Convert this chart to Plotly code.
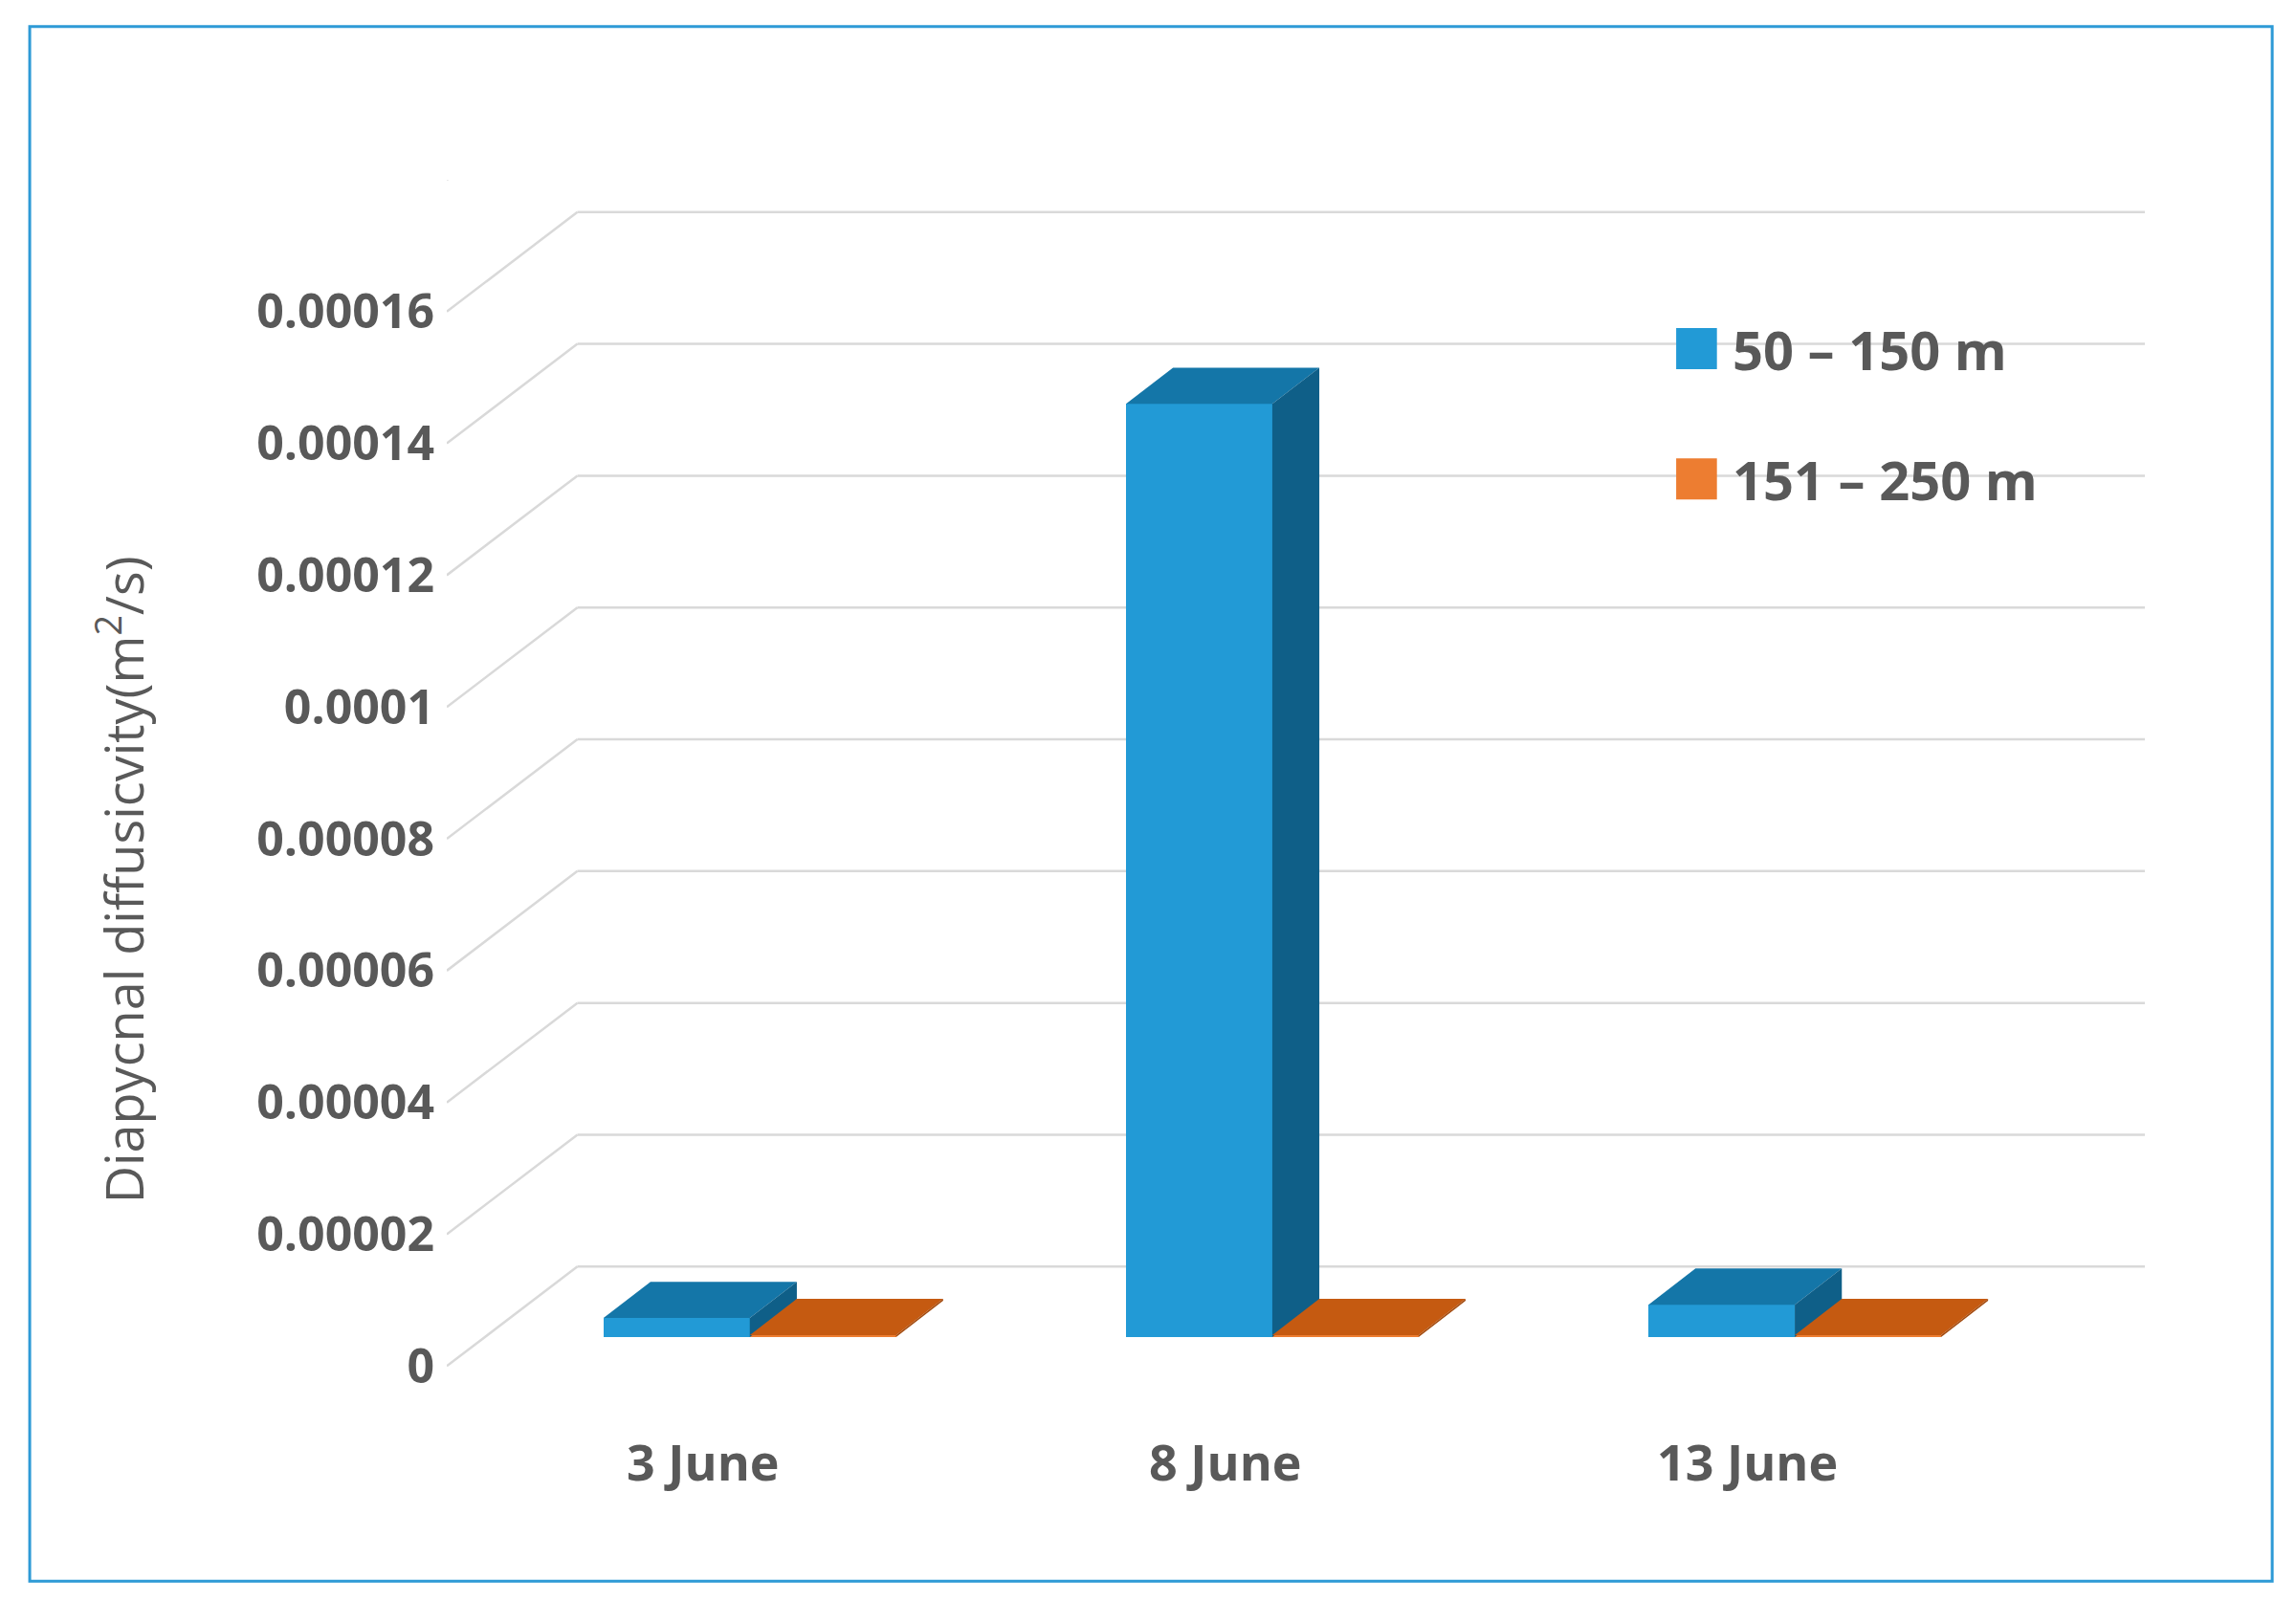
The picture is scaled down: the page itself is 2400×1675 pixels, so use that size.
import plotly.graph_objects as go

dates = ["3 June", "8 June", "13 June"]
series_names = ["50 \u2013 150 m", "151 \u2013 250 m"]
shallow = [0.0000029, 0.0001416, 0.0000049]   # 50-150 m
deep = [0.0000003, 0.0000003, 0.0000003]      # 151-250 m
y_ticks = [0, 0.00002, 0.00004, 0.00006, 0.00008, 0.0001, 0.00012, 0.00014, 0.00016]
y_tick_text = ["0", "0.00002", "0.00004", "0.00006", "0.00008", "0.0001",
               "0.00012", "0.00014", "0.00016"]

# faux-3D geometry (data units)
xmin, xmax = -0.49, 2.51
wall_dx, wall_dy = 0.25, 0.0000151
bar_dx, bar_dy = 0.09, 0.0000055
floor = 0.0000044
bar_w = 0.28
offsets = [-0.19, 0.09]
colors = [("#229AD6", "#1476A8", "#0F5F88"), ("#ED7D31", "#C55A11", "#A34A0E")]

grey = "#595959"
font_family = "Open Sans"
fig = go.Figure()
shapes = []

grid = dict(color="#D9D9D9", width=2.5)
for t in y_ticks + [y_ticks[-1] + 0.00002]:
    shapes.append(dict(type="line", x0=xmin, y0=t, x1=xmin + wall_dx, y1=t + wall_dy,
                       line=grid, layer="below"))
    shapes.append(dict(type="line", x0=xmin + wall_dx, y0=t + wall_dy, x1=xmax + wall_dx,
                       y1=t + wall_dy, line=grid, layer="below"))

for s, vals in enumerate([shallow, deep]):
    front, top, side = colors[s]
    xs = [i + offsets[s] for i in range(len(dates))]
    fig.add_trace(go.Bar(x=[x + bar_w / 2 for x in xs], y=vals, base=floor, width=bar_w,
                         marker=dict(color=front, line=dict(width=0)),
                         name=series_names[s], showlegend=False))
    for x0, v in zip(xs, vals):
        x1 = x0 + bar_w
        yt = floor + v
        shapes.append(dict(type="path", fillcolor=top, line=dict(width=0),
                           path=f"M{x0},{yt} L{x1},{yt} L{x1 + bar_dx},{yt + bar_dy} "
                                f"L{x0 + bar_dx},{yt + bar_dy} Z"))
        shapes.append(dict(type="path", fillcolor=side, line=dict(width=0),
                           path=f"M{x1},{floor} L{x1},{yt} L{x1 + bar_dx},{yt + bar_dy} "
                                f"L{x1 + bar_dx},{floor + bar_dy} Z"))

# outer blue frame
shapes.append(dict(type="rect", xref="paper", yref="paper", x0=-0.2456, x1=1.075,
                   y0=-0.162, y1=1.127, line=dict(color="#2E9AD6", width=3)))

annotations = [dict(text=f"<b>{d}</b>", x=i, y=-0.062, xref="x", yref="paper",
                    showarrow=False, yanchor="middle",
                    font=dict(size=52, color=grey, family=font_family))
               for i, d in enumerate(dates)]
annotations.append(dict(text="Diapycnal diffusicvity(m<sup>2</sup>/s)", textangle=-90,
                        x=-0.215, y=0.42, xref="paper", yref="paper", showarrow=False,
                        font=dict(size=54, color=grey, family=font_family)))

# manual legend
legend_y = [0.860, 0.752]
for s, ly in enumerate(legend_y):
    shapes.append(dict(type="rect", xref="paper", yref="paper", x0=0.724, x1=0.748,
                       y0=ly - 0.017, y1=ly + 0.017, fillcolor=colors[s][0],
                       line=dict(width=0)))
    annotations.append(dict(text=f"<b>{series_names[s]}</b>", x=0.756, y=ly,
                            xref="paper", yref="paper", xanchor="left", yanchor="middle",
                            showarrow=False,
                            font=dict(size=56, color=grey, family=font_family)))

fig.update_layout(
    width=2400, height=1675,
    margin=dict(l=459, r=166, t=180, b=234),
    plot_bgcolor="white", paper_bgcolor="white",
    barmode="overlay", bargap=0,
    shapes=shapes, annotations=annotations,
    xaxis=dict(range=[xmin, xmax + wall_dx], showgrid=False, zeroline=False,
               showticklabels=False, showline=False),
    yaxis=dict(range=[-0.000003, 0.00018], tickvals=y_ticks,
               ticktext=[f"<b>{t}</b>" for t in y_tick_text],
               showgrid=False, zeroline=False, showline=False, ticklen=0,
               ticklabelstandoff=12,
               tickfont=dict(size=50, color=grey, family=font_family)),
    showlegend=False,
)
fig.write_html("out.html")
